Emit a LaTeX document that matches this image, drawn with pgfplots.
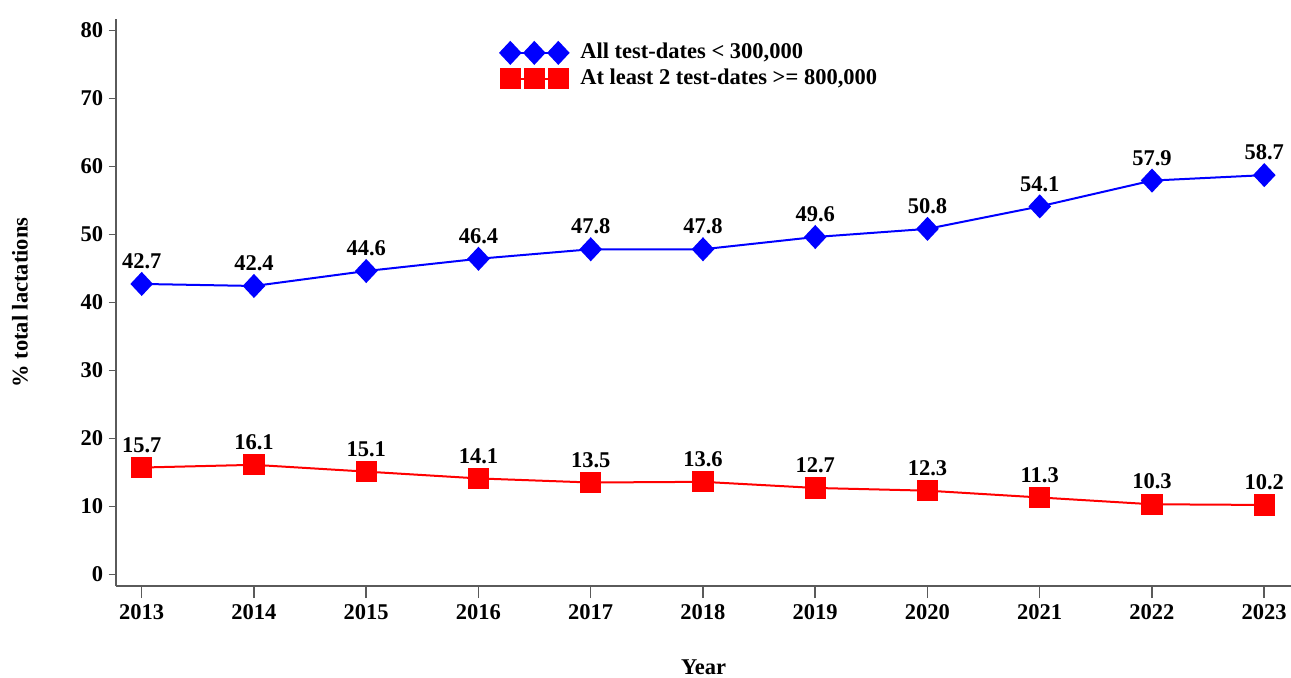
\documentclass[border=0pt]{standalone}
\usepackage{fontspec}
\setmainfont{Liberation Serif}
\usepackage{pgfplots}
\pgfplotsset{compat=1.18}
\definecolor{axgray}{RGB}{90,90,90}
\pgfplotsset{
  base/.style={
    at={(0pt,0pt)}, anchor=south west,
    scale only axis, width=587.5pt, height=283.5pt,
    xmin=2012.771, xmax=2023.238,
    ymin=-1.72, ymax=81.66,
    axis line style={draw=axgray, line width=0.7pt, -},
    tick align=outside,
    tick style={draw=axgray, line width=0.7pt},
    /pgf/number format/assume math mode=true,
    tick label style={font=\fontsize{11.25}{13.5}\selectfont\bfseries},
    label style={font=\fontsize{11.25}{13.5}\selectfont\bfseries},
    clip=false,
  }
}
\begin{document}
\fontsize{11.25}{13.5}\selectfont\bfseries
\begin{tikzpicture}
\path[use as bounding box] (-58pt,-45.5pt) rectangle (587.5pt,293pt);
% x axis only
\begin{axis}[base,
  axis x line*=bottom, hide y axis,
  xtick={2013,...,2023},
  xticklabels={2013,2014,2015,2016,2017,2018,2019,2020,2021,2022,2023},
  major tick length=6pt,
  xticklabel style={inner sep=0pt, yshift=-3pt},
  xlabel={Year},
  xlabel style={at={(axis description cs:0.5,0)}, anchor=center, yshift=-40.5pt},
]
\addplot[draw=none] coordinates {(2013,0)};
\end{axis}
% y axis and data
\begin{axis}[base,
  axis y line*=left, hide x axis,
  ytick={0,10,...,80},
  major tick length=3.7pt,
  yticklabel style={inner sep=0pt, xshift=-2.5pt},
  ylabel={\% total lactations},
  ylabel style={at={(axis description cs:0,0.5)}, anchor=center, yshift=48pt},
  legend style={draw=none, fill=none, at={(axis description cs:0.3268,0.963)}, anchor=north west, inner sep=0pt, row sep=0.5pt,
    font=\fontsize{11.25}{13.5}\selectfont\bfseries, nodes={inner sep=1.5pt, anchor=west}},
  legend cell align=left,
  legend image code/.code={\draw[#1] plot coordinates {(0pt,0pt) (12pt,0pt) (24pt,0pt)}; \path (33pt,0pt);},
  nodes near coords={\pgfplotspointmeta},
  point meta=explicit symbolic,
  every node near coord/.style={anchor=south, inner sep=0pt, yshift=7pt, text=black, font=\fontsize{11.25}{13.5}\selectfont\bfseries},
]
\addplot[blue, line width=1pt, mark=diamond*, mark size=5.3pt, mark options={solid, fill=blue, draw=blue, xscale=1.25}]
 table[meta=m] {
x y m
2013 42.7 42.7
2014 42.4 42.4
2015 44.6 44.6
2016 46.4 46.4
2017 47.8 47.8
2018 47.8 47.8
2019 49.6 49.6
2020 50.8 50.8
2021 54.1 54.1
2022 57.9 57.9
2023 58.7 58.7
};
\addlegendentry{All test-dates < 300,000}
\addplot[red, line width=1pt, mark=square*, mark size=4.8pt, mark options={solid, fill=red, draw=red}]
 table[meta=m] {
x y m
2013 15.7 15.7
2014 16.1 16.1
2015 15.1 15.1
2016 14.1 14.1
2017 13.5 13.5
2018 13.6 13.6
2019 12.7 12.7
2020 12.3 12.3
2021 11.3 11.3
2022 10.3 10.3
2023 10.2 10.2
};
\addlegendentry{At least 2 test-dates >= 800,000}
\end{axis}
\end{tikzpicture}
\end{document}
